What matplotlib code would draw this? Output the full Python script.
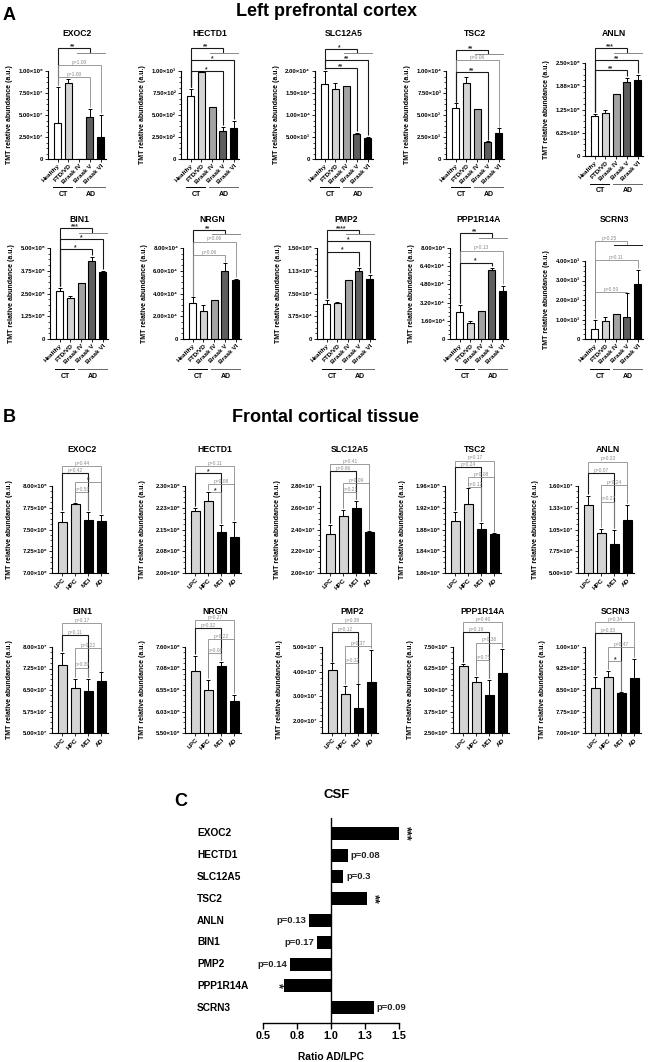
import math
from decimal import Decimal, ROUND_HALF_UP

import matplotlib
matplotlib.use('Agg')
import matplotlib.pyplot as plt
import matplotlib.transforms as mtransforms
from matplotlib.ticker import AutoMinorLocator
import numpy as np

plt.rcParams['font.family'] = ['Liberation Sans', 'DejaVu Sans']
plt.rcParams['font.weight'] = 'bold'
plt.rcParams['axes.labelweight'] = 'bold'

W, H = 649, 1062

# ---------------- panel A : left prefrontal cortex ----------------
a_genes = ['EXOC2', 'HECTD1', 'SLC12A5', 'TSC2', 'ANLN',
           'BIN1', 'NRGN', 'PMP2', 'PPP1R14A', 'SCRN3']
a_groups = ['Healthy', 'FTD/VD', 'Braak IV', 'Braak V', 'Braak VI']
a_mean = {
    'EXOC2':    [4.05e7, 8.6e7, 0, 4.8e7, 2.5e7],
    'HECTD1':   [7.2e2, 9.92e2, 5.95e2, 3.22e2, 3.56e2],
    'SLC12A5':  [1.70e4, 1.58e4, 1.67e4, 5.6e3, 4.85e3],
    'TSC2':     [5.83e3, 8.6e3, 5.64e3, 1.97e3, 2.92e3],
    'ANLN':     [1.07e5, 1.16e5, 1.66e5, 2.0e5, 2.05e5],
    'BIN1':     [2.62e5, 2.25e5, 3.1e5, 4.3e5, 3.7e5],
    'NRGN':     [3.2e4, 2.45e4, 3.4e4, 6.0e4, 5.15e4],
    'PMP2':     [5.7e4, 5.86e4, 9.8e4, 1.12e5, 9.85e4],
    'PPP1R14A': [2.41e4, 1.38e4, 2.5e4, 6.08e4, 4.26e4],
    'SCRN3':    [5.2e2, 9.2e2, 1.27e3, 1.13e3, 2.8e3],
}
a_sem = {
    'EXOC2':    [4.15e7, 5e6, 0, 9e6, 2.5e7],
    'HECTD1':   [8e1, 8, 0, 4.5e1, 7.6e1],
    'SLC12A5':  [3.0e3, 1.4e3, 0, 4e2, 2.5e2],
    'TSC2':     [5e2, 6.8e2, 0, 4e1, 5.6e2],
    'ANLN':     [5e3, 8e3, 0, 1.1e4, 1.3e4],
    'BIN1':     [1.8e4, 1.2e4, 0, 2.2e4, 5e3],
    'NRGN':     [4.5e3, 5e3, 0, 6.5e3, 1e3],
    'PMP2':     [7e3, 2.5e3, 0, 5e3, 7.5e3],
    'PPP1R14A': [6e3, 1.8e3, 0, 1.7e3, 4.4e3],
    'SCRN3':    [4.8e2, 2.1e2, 0, 1.22e3, 7.5e2],
}
a_ymax = {'EXOC2': 1e8, 'HECTD1': 1e3, 'SLC12A5': 2e4, 'TSC2': 1e4, 'ANLN': 2.5e5,
          'BIN1': 5e5, 'NRGN': 8e4, 'PMP2': 1.5e5, 'PPP1R14A': 8e4, 'SCRN3': 4e3}
a_nticks = {'PPP1R14A': 5}
# CT vs AD, Healthy vs Braak VI, Healthy vs Braak V
a_sig = {
    'EXOC2':    ['**', 'p=1.00', 'p=1.00'],
    'HECTD1':   ['**', '*', '*'],
    'SLC12A5':  ['*', '**', '**'],
    'TSC2':     ['**', 'p=0.06', '**'],
    'ANLN':     ['***', '**', '**'],
    'BIN1':     ['***', '*', '*'],
    'NRGN':     ['**', 'p=0.06', 'p=0.06'],
    'PMP2':     ['****', '*', '*'],
    'PPP1R14A': ['**', 'p=0.13', '*'],
    'SCRN3':    ['p=0.25', 'p=0.11', 'p=0.50'],
}

# ---------------- panel B : frontal cortical tissue ----------------
b_groups = ['LPC', 'HPC', 'MCI', 'AD']
b_mean = {
    'EXOC2':    [7.586e6, 7.79e6, 7.61e6, 7.60e6],
    'HECTD1':   [2.214e6, 2.248e6, 2.141e6, 2.124e6],
    'SLC12A5':  [2.359e7, 2.524e7, 2.598e7, 2.377e7],
    'TSC2':     [1.8957e8, 1.927e8, 1.881e8, 1.872e8],
    'ANLN':     [1.36e7, 1.006e7, 8.67e6, 1.17e7],
    'BIN1':     [7.37e7, 6.58e7, 6.47e7, 6.81e7],
    'NRGN':     [7.01e6, 6.55e6, 7.13e6, 6.28e6],
    'PMP2':     [4.08e7, 3.08e7, 2.51e7, 3.56e7],
    'PPP1R14A': [6.38e6, 5.44e6, 4.72e6, 5.96e6],
    'SCRN3':    [8.58e6, 8.96e6, 8.39e6, 8.91e6],
}
b_sem = {
    'EXOC2':    [1.14e5, 1e4, 9e4, 7e4],
    'HECTD1':   [1.0e4, 3.1e4, 2.4e4, 5.2e4],
    'SLC12A5':  [8.2e5, 5.5e5, 6.4e5, 5e4],
    'TSC2':     [1.63e6, 2.9e6, 1.1e6, 1e5],
    'ANLN':     [1.14e6, 5.0e5, 1.76e6, 1.9e6],
    'BIN1':     [4.2e6, 3.2e6, 4.3e6, 3.1e6],
    'NRGN':     [3.8e5, 2.4e5, 1.1e5, 1.6e5],
    'PMP2':     [2.5e6, 3.3e6, 9.7e6, 1.31e7],
    'PPP1R14A': [1.2e5, 3.3e5, 8.8e5, 1.44e6],
    'SCRN3':    [3.8e5, 2.1e5, 3e4, 6.7e5],
}
# (axis min, axis max, tick step)
b_yrange = {
    'EXOC2':    (7.0e6, 8.0e6, 2.5e5),
    'HECTD1':   (2.0e6, 2.3e6, 7.5e4),
    'SLC12A5':  (2.0e7, 2.8e7, 2e6),
    'TSC2':     (1.8e8, 1.96e8, 4e6),
    'ANLN':     (5e6, 1.6e7, 2.75e6),
    'BIN1':     (5e7, 8e7, 7.5e6),
    'NRGN':     (5.5e6, 7.6e6, 5.25e5),
    'PMP2':     (1.5e7, 5e7, 1e7),
    'PPP1R14A': (2.5e6, 7.5e6, 1.25e6),
    'SCRN3':    (7e6, 1e7, 7.5e5),
}
# LPC-AD, LPC-MCI, HPC-AD, HPC-MCI
b_pairs = [(0, 3), (0, 2), (1, 3), (1, 2)]
b_sig = {
    'EXOC2':    ['p=0.44', 'p=0.42', '*', 'p=0.50'],
    'HECTD1':   ['p=0.11', '*', 'p=0.08', '*'],
    'SLC12A5':  ['p=0.41', 'p=0.86', 'p=0.09', 'p=0.21'],
    'TSC2':     ['p=0.17', 'p=0.24', 'p=0.08', 'p=0.12'],
    'ANLN':     ['p=0.23', 'p=0.07', 'p=0.24', 'p=0.27'],
    'BIN1':     ['p=0.17', 'p=0.11', 'p=0.22', 'p=0.39'],
    'NRGN':     ['p=0.27', 'p=0.32', 'p=0.22', 'p=0.08'],
    'PMP2':     ['p=0.39', 'p=0.12', 'p=0.37', 'p=0.32'],
    'PPP1R14A': ['p=0.40', 'p=0.19', 'p=0.38', 'p=0.75'],
    'SCRN3':    ['p=0.34', 'p=0.33', 'p=0.47', '*'],
}

# ---------------- panel C : CSF ----------------
c_genes = ['EXOC2', 'HECTD1', 'SLC12A5', 'TSC2', 'ANLN', 'BIN1', 'PMP2', 'PPP1R14A', 'SCRN3']
c_ratio = [1.50, 1.125, 1.09, 1.265, 0.84, 0.895, 0.70, 0.655, 1.316]
c_sig = ['***', 'p=0.08', 'p=0.3', '**', 'p=0.13', 'p=0.17', 'p=0.14', '*', 'p=0.09']
c_ticks = [0.5, 0.75, 1.0, 1.25, 1.5]

# ---------------- layout (pixels) ----------------
A_COLORS = ['white', '#d4d4d4', '#a3a3a3', '#5e5e5e', 'black']
B_COLORS = ['#d4d4d4', '#d4d4d4', 'black', 'black']
A_W, B_W = 58, 56
A_ROWS = [dict(top=71, bottom=159, lefts=[48, 181, 315, 446, 585], title_y=33),
          dict(top=248, bottom=339, lefts=[50, 183, 317, 450, 585], title_y=219)]
A_BOX = {'ANLN': (63, 156), 'SCRN3': (261, 339)}
A_LEVELS = {
    'EXOC2': [1.26, 1.07, 0.93], 'HECTD1': [1.26, 1.125, 1.0], 'SLC12A5': [1.25, 1.125, 1.03],
    'TSC2': [1.24, 1.125, 0.99], 'ANLN': [1.16, 1.03, 0.925], 'BIN1': [1.22, 1.10, 0.99],
    'NRGN': [1.20, 1.07, 0.92], 'PMP2': [1.20, 1.08, 0.96], 'PPP1R14A': [1.16, 0.97, 0.84],
    'SCRN3': [1.256, 1.013, 0.603],
}
B_ROWS = [dict(top=486, bottom=573, lefts=[52, 185, 320, 445, 578], title_y=450),
          dict(top=647, bottom=733, lefts=[52, 185, 322, 453, 585], title_y=611)]
B_LEVELS = {
    'EXOC2': [1.23, 1.15, 1.05, 0.93], 'HECTD1': [1.23, 1.15, 1.02, 0.93],
    'SLC12A5': [1.25, 1.17, 1.03, 0.93], 'TSC2': [1.29, 1.22, 1.10, 0.99],
    'ANLN': [1.28, 1.15, 1.01, 0.82], 'BIN1': [1.28, 1.14, 0.99, 0.76],
    'NRGN': [1.31, 1.22, 1.09, 0.93], 'PMP2': [1.28, 1.17, 1.01, 0.81],
    'PPP1R14A': [1.29, 1.17, 1.05, 0.85], 'SCRN3': [1.29, 1.16, 1.0, 0.84],
}

SUP = str.maketrans('0123456789-', '⁰¹²³⁴⁵⁶⁷⁸⁹⁻')


def px_axes(fig, left, top, width, height):
    return fig.add_axes([left / W, 1 - (top + height) / H, width / W, height / H])


def sci(v):
    v = float(v)
    if v == 0:
        return '0'
    e = int(math.floor(math.log10(v) + 1e-9))
    m = Decimal(str(round(v / 10 ** e, 6))).quantize(Decimal('0.01'), rounding=ROUND_HALF_UP)
    return '{}×10{}'.format(m, str(e).translate(SUP))


def style_axes(ax, ticks, names):
    for s in ('top', 'right'):
        ax.spines[s].set_visible(False)
    for s in ('left', 'bottom'):
        ax.spines[s].set_linewidth(0.8)
    ax.set_yticks(ticks)
    ax.set_yticklabels([sci(t) for t in ticks])
    ax.yaxis.set_minor_locator(AutoMinorLocator(4))
    ax.tick_params(axis='y', which='major', length=2.5, width=0.6, pad=1, labelsize=4.3)
    ax.tick_params(axis='y', which='minor', length=1.3, width=0.5)
    ax.set_xticks(range(len(names)))
    ax.set_xticklabels(names, rotation=45, ha='right', rotation_mode='anchor')
    ax.tick_params(axis='x', length=2, width=0.6, pad=1.2, labelsize=4.6)
    ax.set_ylabel('TMT relative abundance (a.u.)', fontsize=5.0)


def draw_bars(ax, means, sems, colors, width):
    x = np.arange(len(means))
    means = np.asarray(means, dtype=float)
    sems = np.asarray(sems, dtype=float)
    ax.bar(x, means, width=width, color=colors, edgecolor='black', linewidth=0.8, zorder=2)
    m = sems > 0
    ax.errorbar(x[m], means[m], yerr=[np.zeros(m.sum()), sems[m]], fmt='none', ecolor='black',
                elinewidth=0.7, capsize=1.6, capthick=0.7, zorder=3)
    return means + sems


def bracket(ax, xs, ys, label, xt, yt, dark):
    star = label.startswith('*')
    ax.plot(xs, ys, color='#1a1a1a' if dark else '#8a8a8a', lw=0.8 if dark else 0.6,
            clip_on=False, solid_joinstyle='miter', solid_capstyle='butt')
    ax.annotate(label, (xt, yt), xytext=(0, -1.5 if star else 0.2), textcoords='offset points',
                ha='center', va='bottom', fontsize=4.8 if star else 3.5,
                color='#333333' if star else '#8a8a8a', fontweight='bold' if star else 'normal',
                annotation_clip=False)


fig = plt.figure(figsize=(W / 100, H / 100), dpi=100)

fig.text(3 / W, 1 - 15 / H, 'A', fontsize=13, fontweight='bold', va='center', ha='left')
fig.text(327 / W, 1 - 11 / H, 'Left prefrontal cortex', fontsize=13, fontweight='bold',
         ha='center', va='center')
fig.text(3 / W, 1 - 417 / H, 'B', fontsize=13, fontweight='bold', va='center', ha='left')
fig.text(325 / W, 1 - 417 / H, 'Frontal cortical tissue', fontsize=13, fontweight='bold',
         ha='center', va='center')

# ---- panel A
for k, gene in enumerate(a_genes):
    row = A_ROWS[k // 5]
    left = row['lefts'][k % 5]
    top, bottom = A_BOX.get(gene, (row['top'], row['bottom']))
    ax = px_axes(fig, left, top, A_W, bottom - top)
    ymax = a_ymax[gene]
    tops = draw_bars(ax, a_mean[gene], a_sem[gene], A_COLORS, 0.65)
    ax.set_xlim(-0.9, 4.5)
    ax.set_ylim(0, ymax)
    style_axes(ax, np.linspace(0, ymax, a_nticks.get(gene, 4) + 1), a_groups)
    ax.yaxis.set_label_coords(-35 / A_W, 0.5)
    fig.text((left + A_W / 2) / W, 1 - row['title_y'] / H, gene, fontsize=6.2,
             fontweight='bold', ha='center', va='center')

    gap = 0.02 * ymax
    lv = [f * ymax for f in A_LEVELS[gene]]
    labs = a_sig[gene]
    # CT vs AD group bracket
    drop = 0.05 * ymax
    bracket(ax, [0, 0, 3.0, 3.0], [min(tops[0] + gap, lv[0]), lv[0], lv[0], lv[0] - drop],
            labs[0], 1.4, lv[0], labs[0].startswith('*'))
    ax.plot([1.8, 4.4], [lv[0] - drop] * 2, color='#1a1a1a' if labs[0].startswith('p') else '#8a8a8a',
            lw=0.7, clip_on=False)
    for lab, h, j in zip(labs[1:], lv[1:], (4, 3)):
        bracket(ax, [0, 0, j, j], [min(tops[0] + gap, h), h, h, min(tops[j] + gap, h)],
                lab, j / 2, h, lab.startswith('*'))

    # CT / AD group lines under tick labels
    hgt = bottom - top
    tr = mtransforms.blended_transform_factory(ax.transData, ax.transAxes)
    yl = -(28 if k < 5 else 30) / hgt
    yt = -(35 if k < 5 else 38) / hgt
    ax.plot([-0.4, 1.35], [yl, yl], color='black', lw=0.7, transform=tr, clip_on=False)
    ax.plot([1.75, 4.45], [yl, yl], color='#666666', lw=0.7, transform=tr, clip_on=False)
    ax.text(0.5, yt, 'CT', transform=tr, ha='center', va='center', fontsize=5)
    ax.text(3.1, yt, 'AD', transform=tr, ha='center', va='center', fontsize=5)

# ---- panel B
for k, gene in enumerate(a_genes):
    row = B_ROWS[k // 5]
    left = row['lefts'][k % 5]
    top, bottom = row['top'], row['bottom']
    ax = px_axes(fig, left, top, B_W, bottom - top)
    lo, hi, step = b_yrange[gene]
    tops = draw_bars(ax, b_mean[gene], b_sem[gene], B_COLORS, 0.7)
    ax.set_xlim(-0.8, 3.5)
    ax.set_ylim(lo, hi)
    style_axes(ax, np.arange(hi, lo - step * 0.01, -step), b_groups)
    ax.yaxis.set_label_coords(-39 / B_W, 0.5)
    fig.text((left + B_W / 2 + 2) / W, 1 - row['title_y'] / H, gene, fontsize=6.2,
             fontweight='bold', ha='center', va='center')
    gap = 0.02 * (hi - lo)
    for (i, j), lab, f in zip(b_pairs, b_sig[gene], B_LEVELS[gene]):
        h = lo + f * (hi - lo)
        bracket(ax, [i, i, j, j], [min(tops[i] + gap, h), h, h, min(tops[j] + gap, h)],
                lab, (i + j) / 2, h, (i, j) == (0, 2))

# ---- panel C
fig.text(174 / W, 1 - 802 / H, 'C', fontsize=13, fontweight='bold', va='center', ha='left')
fig.text(337 / W, 1 - 795 / H, 'CSF', fontsize=9.5, fontweight='bold', ha='center', va='center')
axc = px_axes(fig, 263, 818, 136, 205)
yc = np.arange(len(c_genes))
axc.barh(yc, np.array(c_ratio) - 1.0, left=1.0, height=0.6, color='black', zorder=2)
axc.set_xlim(0.5, 1.5)
axc.set_ylim(len(c_genes) - 0.3, -0.7)
axc.axvline(1.0, color='black', lw=1.0, zorder=3)
for s in ('top', 'right', 'left'):
    axc.spines[s].set_visible(False)
axc.spines['bottom'].set_linewidth(1.0)
axc.set_yticks([])
axc.set_xticks(c_ticks)
axc.set_xticklabels([str(Decimal(str(t)).quantize(Decimal('0.1'), rounding=ROUND_HALF_UP))
                     for t in c_ticks])
axc.tick_params(axis='x', length=4, width=1.0, pad=2, labelsize=7.8)
axc.set_xlabel('Ratio AD/LPC', fontsize=7.4, labelpad=8)
trc = mtransforms.blended_transform_factory(axc.transAxes, axc.transData)
for i, g in enumerate(c_genes):
    axc.text(-66 / 136, i, g, transform=trc, ha='left', va='center', fontsize=7.3, fontweight='bold')
for i, (r, lab) in enumerate(zip(c_ratio, c_sig)):
    star = lab.startswith('*')
    sgn = 1 if r > 1 else -1
    if star:
        axc.text(r + sgn * 0.05, i, lab, ha='center', va='center', rotation=-90,
                 fontsize=9, fontweight='bold', color='#1a1a1a')
    else:
        axc.text(r + sgn * 0.02, i, lab, ha='left' if sgn > 0 else 'right', va='center',
                 fontsize=6.8, fontweight='bold', color='#222222')

fig.savefig('out.png', dpi=100)
